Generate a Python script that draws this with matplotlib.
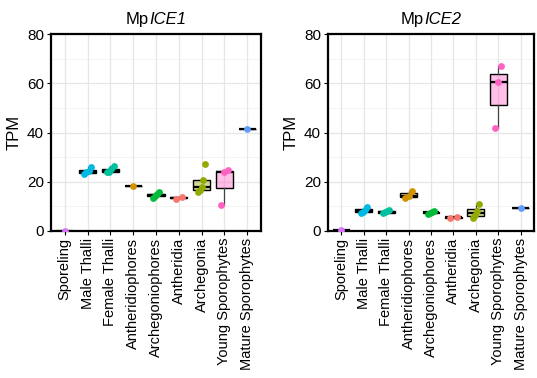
import matplotlib.pyplot as plt
import matplotlib.colors as mcolors
import numpy as np

plt.rcParams['font.family'] = ['Liberation Sans', 'DejaVu Sans']

stages = ['Sporeling', 'Male Thalli', 'Female Thalli', 'Antheridiophores',
          'Archegoniophores', 'Antheridia', 'Archegonia', 'Young Sporophytes',
          'Mature Sporophytes']

# ggplot hue colours, assigned alphabetically by stage
colors = ['#DB72FB', '#00B9E3', '#00C19F', '#D39200', '#00BA38',
          '#F8766D', '#93AA00', '#FF61C3', '#619CFF']

# TPM values per replicate
ice1 = [
    [0.0],
    [23.0, 23.8, 24.2, 25.8],
    [24.0, 24.1, 25.0, 26.3],
    [18.4],
    [13.2, 14.3, 15.0, 15.7],
    [13.0, 13.9],
    [16.0, 16.7, 17.7, 20.6, 27.3],
    [10.5, 24.1, 24.7],
    [41.4],
]
ice2 = [
    [0.3],
    [7.5, 7.8, 8.6, 9.6],
    [7.2, 7.6, 8.2, 8.4],
    [13.3, 14.3, 16.3],
    [6.8, 7.3, 7.8, 8.1],
    [5.2, 5.8],
    [5.4, 6.5, 8.1, 10.9],
    [41.7, 60.4, 67.2],
    [9.4],
]

fig = plt.figure(figsize=(5.37, 3.78), dpi=100)
ax1 = fig.add_axes([51 / 537, 147 / 378, 210 / 537, 197 / 378])
ax2 = fig.add_axes([328 / 537, 147 / 378, 206 / 537, 197 / 378])


def draw_title(ax, gene):
    # "Mp" upright followed by italic gene name, centred over the panel
    r = fig.canvas.get_renderer()
    t1 = ax.text(0.5, 1.035, 'Mp', transform=ax.transAxes, fontsize=12,
                 ha='left', va='bottom')
    t2 = ax.text(0.5, 1.035, gene, transform=ax.transAxes, fontsize=12,
                 style='italic', ha='left', va='bottom')
    w1 = t1.get_window_extent(r).width
    w2 = t2.get_window_extent(r).width
    axw = ax.get_window_extent(r).width
    start = 0.5 - (w1 + w2) / 2 / axw
    t1.set_x(start)
    t2.set_x(start + w1 / axw)


def draw_panel(ax, data, gene):
    pos = np.arange(len(stages))
    # grid
    for y in [10, 30, 50, 70]:
        ax.axhline(y, color='#F0F0F0', lw=0.5, zorder=0)
    for y in [20, 40, 60]:
        ax.axhline(y, color='#E6E6E6', lw=0.9, zorder=0)
    for x in pos:
        ax.axvline(x, color='#E6E6E6', lw=0.9, zorder=0)

    bp = ax.boxplot(data, positions=pos, widths=0.75, showfliers=False,
                    patch_artist=True, whis=1.5,
                    medianprops=dict(color='black', lw=1.6),
                    whiskerprops=dict(color='#444444', lw=0.9),
                    capprops=dict(lw=0),
                    boxprops=dict(lw=1.0, edgecolor='black'))
    for patch, c in zip(bp['boxes'], colors):
        patch.set_facecolor(mcolors.to_rgba(c, 0.4))
    for i, vals in enumerate(data):
        n = len(vals)
        offs = np.linspace(-0.14, 0.14, n) if n > 1 else [0.0]
        ax.scatter(pos[i] + np.array(offs), vals, s=24, color=colors[i],
                   zorder=3, linewidths=0)

    ax.set_xlim(-0.6, len(stages) - 0.4)
    ax.set_ylim(0, 80)
    ax.set_yticks([0, 20, 40, 60, 80])
    ax.set_xticks(pos)
    ax.set_xticklabels(stages, rotation=90, fontsize=10.5)
    ax.tick_params(axis='y', labelsize=11, length=3, width=0.8, pad=2)
    ax.tick_params(axis='x', length=3, width=0.8, pad=2)
    for s in ax.spines.values():
        s.set_linewidth(1.6)
        s.set_color('black')
    ax.set_ylabel('TPM', fontsize=12, labelpad=4)
    draw_title(ax, gene)


draw_panel(ax1, ice1, 'ICE1')
draw_panel(ax2, ice2, 'ICE2')

fig.savefig('out.png', dpi=100)
